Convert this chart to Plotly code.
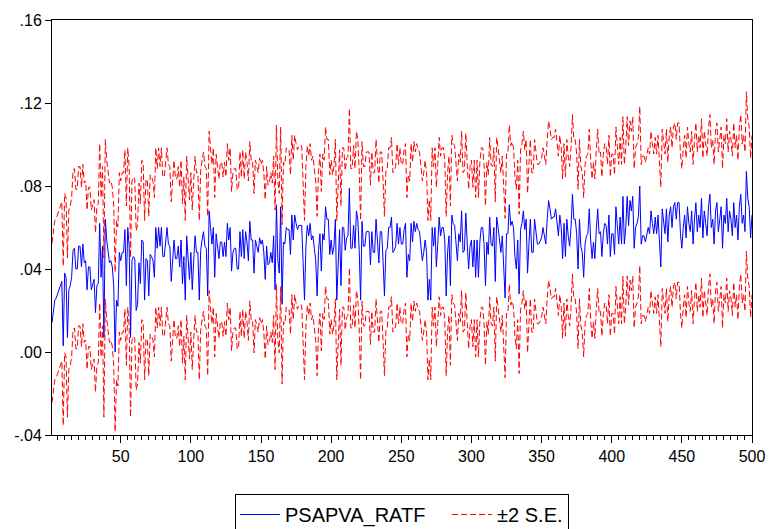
import plotly.graph_objects as go

# Forecast (PSAPVA_RATF), in thousandths, observations 1..500
forecast_milli = [
    14,19,25,26,28,30,33,34,3,38,36,7,30,32,36,49,50,40,40,51,51,41,52,43,44,30,41,41,30,33,35,19,32,33,62,36,51,7,64,54,48,43,44,41,32,0,25,22,48,44,
    48,48,59,32,60,51,7,44,46,45,20,23,43,33,54,53,25,45,44,27,47,46,44,36,60,50,60,51,60,46,46,53,60,52,51,34,44,54,45,45,51,41,54,33,46,25,56,44,35,48,
    30,44,56,48,48,25,49,54,58,51,50,27,68,60,52,60,36,57,52,45,53,53,46,53,46,62,54,60,39,48,50,50,40,40,58,46,59,45,58,53,44,63,54,54,38,54,51,48,55,52,
    54,48,35,51,42,43,48,43,56,30,71,44,38,70,23,53,52,60,59,59,47,66,54,66,62,59,61,61,61,43,25,51,61,56,62,54,56,50,44,27,49,57,39,57,54,70,64,64,47,54,
    47,51,64,25,48,59,32,60,60,49,55,56,79,50,50,61,50,68,64,49,25,63,51,51,58,58,58,42,58,48,48,64,54,43,58,58,44,27,49,50,60,60,65,48,49,51,62,52,60,52,
    52,59,62,36,47,44,62,53,63,58,62,59,58,52,44,48,54,48,25,35,25,60,51,60,41,52,65,56,60,60,54,27,48,56,32,66,62,61,53,44,57,53,68,48,49,67,52,40,51,54,
    41,54,36,54,36,53,60,60,52,32,53,47,65,52,51,60,34,65,60,53,48,56,44,26,57,57,71,61,63,60,46,40,54,28,59,62,68,59,64,38,52,64,48,48,64,59,52,52,54,55,
    60,56,52,64,73,69,64,65,65,69,61,56,66,60,45,62,46,64,56,51,60,76,64,64,57,40,64,51,48,36,52,56,57,69,54,45,53,45,59,69,57,58,46,57,62,61,52,66,46,57,
    57,47,70,60,52,65,52,75,52,60,75,61,73,68,75,50,60,62,65,80,52,56,56,53,57,60,57,68,62,57,65,57,66,54,41,69,62,57,69,53,66,70,60,70,72,64,72,72,57,50,
    60,66,55,70,62,58,68,52,64,72,58,66,60,74,55,68,62,56,70,76,60,64,52,68,72,58,64,70,50,66,62,74,58,68,64,56,72,60,66,54,70,76,62,66,58,87,74,70,55,66,
]
forecast_se = 0.0192

observations = list(range(1, len(forecast_milli) + 1))
y_tick_values = [0.16, 0.12, 0.08, 0.04, 0.00, -0.04]
y_tick_labels = [".16", ".12", ".08", ".04", ".00", "-.04"]
x_tick_values = [50, 100, 150, 200, 250, 300, 350, 400, 450, 500]
series_names = ["PSAPVA_RATF", "±2 S.E."]

forecast = [v / 1000 for v in forecast_milli]
upper = [f + 2 * forecast_se for f in forecast]
lower = [f - 2 * forecast_se for f in forecast]

gap = "\u00a0" * 3    # spacing between legend entries

fig = go.Figure()
fig.add_trace(go.Scatter(x=observations, y=forecast, mode="lines", name=series_names[0] + gap,
                         line=dict(color="#0000FF", width=1)))
fig.add_trace(go.Scatter(x=observations, y=upper, mode="lines", name=series_names[1],
                         line=dict(color="#FF0000", width=1, dash="6px,3px"), legendgroup="se"))
fig.add_trace(go.Scatter(x=observations, y=lower, mode="lines", name=series_names[1], showlegend=False,
                         line=dict(color="#FF0000", width=1, dash="6px,3px"), legendgroup="se"))

fig.update_layout(
    width=773, height=529,
    margin=dict(l=52, r=21, t=20, b=94, autoexpand=False),
    paper_bgcolor="white", plot_bgcolor="white",
    font=dict(family="Liberation Sans, Arial, sans-serif", size=16, color="black"),
    showlegend=True,
    legend=dict(orientation="h", xref="container", yref="container",
                x=235 / 773, xanchor="left", y=1 - 494 / 529, yanchor="top",
                bordercolor="black", borderwidth=1, font=dict(size=20),
                itemwidth=40, tracegroupgap=0),
)
fig.update_xaxes(range=[1, 500], tickvals=x_tick_values, ticks="outside", ticklen=7,
                 tickcolor="black", showgrid=False, zeroline=False, showline=True,
                 linecolor="black", linewidth=1, mirror=True,
                 minor=dict(dtick=5, tick0=0, ticks="outside", ticklen=4, tickcolor="black", showgrid=False))
fig.update_yaxes(range=[-0.04, 0.16], tickvals=y_tick_values, ticktext=y_tick_labels,
                 ticks="outside", ticklen=6, tickcolor="black", showgrid=False, zeroline=False,
                 showline=True, linecolor="black", linewidth=1, mirror=True)

fig.write_html("out.html")
